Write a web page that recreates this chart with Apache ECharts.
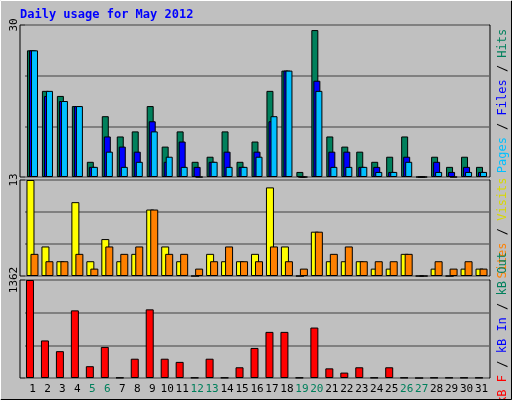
<!DOCTYPE html>
<html style="height: 100%">
<head>
	<meta charset="utf-8">
</head>
<body style="height: 100%; margin: 0; background: #c0c0c0">
<div id="container" style="width: 512px; height: 400px"></div>
<script type="text/javascript" src="https://cdn.jsdelivr.net/npm/echarts@6/dist/echarts.min.js"></script>
<script type="text/javascript">
    var days = [];
    for (var d = 1; d <= 31; d++) days.push(String(d));
    var weekend = ['5', '6', '12', '13', '19', '20', '26', '27'];

    var hits  = [25,17,16,14,3,12,8,9,14,6,9,3,4,9,3,7,17,21,1,29,8,6,5,3,4,8,0,4,2,4,2];
    var files = [25,16,15,14,2,8,6,5,11,3,7,2,3,5,2,5,11,21,0,19,5,5,2,2,1,4,0,3,1,2,1];
    var pages = [25,17,15,14,2,5,2,3,9,4,2,0,3,2,2,4,12,21,0,17,2,2,2,1,1,3,0,1,0,1,1];
    var visits = [13,4,2,10,2,5,2,3,9,4,2,0,3,2,2,3,12,4,0,6,2,2,2,1,1,3,0,1,0,1,1];
    var sites  = [3,2,2,3,1,4,3,4,9,3,3,1,2,4,2,2,4,2,1,6,3,4,2,2,2,3,0,2,1,2,1];
    var kbytes = [1362,522,373,940,164,432,5,268,954,268,224,5,268,5,149,418,641,641,5,701,134,75,149,5,149,5,0,5,5,5,5];

    var font = 'DejaVu Sans Mono';
    var myChart = echarts.init(document.getElementById('container'));

    var panels = [[25, 177], [180, 276], [280, 378]];
    var maxes = [30, 13, 1362];

    function border(c) { return {borderColor: '#000', borderWidth: 1, color: c}; }

    var grids = [], xAxes = [], yAxes = [], graphics = [];
    panels.forEach(function (p, i) {
        grids.push({left: 25, right: 23, top: p[0], height: p[1] - p[0]});
        graphics.push({type: 'rect', z: -1, shape: {x: 20, y: p[0], width: 470, height: p[1] - p[0]},
            style: {fill: '#c0c0c0', stroke: '#000', lineWidth: 1}});
        xAxes.push({
            type: 'category', gridIndex: i, data: days,
            axisLine: {show: false}, axisTick: {show: false},
            axisLabel: {show: i === 2, interval: 0, fontFamily: font, fontSize: 11, margin: 6,
                color: function (v) { return weekend.indexOf(v) >= 0 ? '#00805c' : '#000'; }}
        });
        yAxes.push({
            type: 'value', gridIndex: i, min: 0, max: maxes[i], interval: maxes[i] / 3,
            axisLine: {show: false}, axisTick: {show: false},
            splitLine: {lineStyle: {color: '#808080', width: 2}},
            axisLabel: {rotate: 90, margin: 5, fontFamily: font, fontSize: 11, color: '#000',
                formatter: function (v) { return Math.abs(v - maxes[i]) < 0.01 ? String(maxes[i]) : ''; }}
        });
    });

    function sideLabel(y, parts) {
        var rich = {}, txt = [];
        parts.forEach(function (p, k) {
            rich['a' + k] = {fill: p[1], fontFamily: font, fontSize: 12};
            txt.push('{a' + k + '|' + p[0] + '}');
        });
        return {type: 'text', x: 503, y: y, rotation: Math.PI / 2,
            style: {text: txt.join(''), rich: rich, align: 'center', verticalAlign: 'middle'}};
    }
    graphics.push(sideLabel(101, [['Pages', '#00c0ff'], [' / ', '#000'], ['Files', '#0000ff'], [' / ', '#000'], ['Hits', '#00805c']]));
    graphics.push(sideLabel(228, [['Sites', '#ff8000'], [' / ', '#000'], ['Visits', '#d8d800']]));
    graphics.push(sideLabel(328, [['kB F', '#ff0000'], [' / ', '#000'], ['kB In', '#0000ff'], [' / ', '#000'], ['kB Out', '#00805c']]));
    graphics.push({type: 'text', x: 20, y: 9, style: {text: 'Daily usage for May 2012', fill: '#0000ff',
        fontFamily: font, fontWeight: 'bold', fontSize: 12}});
    graphics.push({type: 'polyline', shape: {points: [[0.5, 399], [0.5, 0.5], [511, 0.5]]}, style: {stroke: '#fff', lineWidth: 1}});
    graphics.push({type: 'polyline', shape: {points: [[1, 399.5], [511.5, 399.5], [511.5, 1]]}, style: {stroke: '#000', lineWidth: 1}});

    var option = {
        animation: false,
        backgroundColor: '#c0c0c0',
        grid: grids, xAxis: xAxes, yAxis: yAxes, graphic: graphics,
        series: [
            {type: 'bar', xAxisIndex: 0, yAxisIndex: 0, data: hits, barWidth: 7, barGap: '-71%', itemStyle: border('#00805c')},
            {type: 'bar', xAxisIndex: 0, yAxisIndex: 0, data: files, barWidth: 7, barGap: '-71%', itemStyle: border('#0000ff')},
            {type: 'bar', xAxisIndex: 0, yAxisIndex: 0, data: pages, barWidth: 7, barGap: '-71%', itemStyle: border('#00c0ff')},
            {type: 'bar', xAxisIndex: 1, yAxisIndex: 1, data: visits, barWidth: 8, barGap: '-50%', itemStyle: border('#ffff00')},
            {type: 'bar', xAxisIndex: 1, yAxisIndex: 1, data: sites, barWidth: 8, barGap: '-50%', itemStyle: border('#ff8000')},
            {type: 'bar', xAxisIndex: 2, yAxisIndex: 2, data: kbytes, barWidth: 8, barGap: '0%', itemStyle: border('#ff0000')},
            {type: 'bar', xAxisIndex: 2, yAxisIndex: 2, data: [], barWidth: 5, barGap: '0%'}
        ]
    };
    myChart.setOption(option, true);
</script>
</body>
</html>
